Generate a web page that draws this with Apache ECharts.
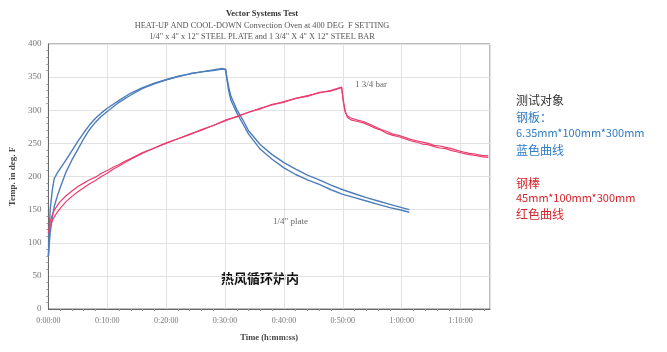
<!DOCTYPE html>
<html>
<head>
<meta charset="utf-8">
<script src="https://cdn.jsdelivr.net/npm/echarts@6/dist/echarts.min.js"></script>
<style>
html,body{margin:0;padding:0;background:#fff;}
#chart{width:667px;height:352px;}
</style>
</head>
<body>
<div id="chart"></div>
<script>
// time in minutes, temperature in deg F
const plateTimes = [0,0.3,0.7,1,1.5,2,3,4,5,6,7,8,9,10,12,14,16,18,20,22,24,26,28,29.5,30.1,30.3,30.6,31,32,33,34,36,38,40,42,44,46,48,50,52,54,56,58,60,61.3]
const plateA = [80,150,182,197,205,212,225,239,253,266,278,288,296,303,315,326,334,341,346,351,355,358,361,363,362,348,330,315,296,280,264,241,226,213,203,195,188,180,173,168,163,158,153,149,146]
const plateB = [80,115,140,155,170,183,207,225,241,257,271,282,291,298,312,323,333,340,346,351,355,358,360,362,361,350,336,321,301,286,269,248,233,221,211,202,195,187,180,174,168,163,158,153,150]

const barTimes = [0,0.3,0.7,1,1.5,2,3,4,5,6,7,8,9,10,11,12,13,14,16,18,20,22,24,26,28,30,32,34,36,38,40,42,44,46,48,49.8,50.1,50.4,50.8,51.5,52.5,53.5,54.5,55.5,56.5,57.5,58.5,59.5,60.5,61.5,62.5,63.5,64.5,65.5,66.5,67.5,68.5,69.5,70.5,71.5,72.5,73.5,74.7]
const barA = [115,132,143,149,156,162,171,178,185,190,195,199,205,209,214,218,223,227,236,243,250,257,264,270,277,284,291,297,303,308,313,318,322,326,330,335,312,297,291,288,285,283,279,275,271,268,264,262,259,256,254,252,250,247,246,244,242,239,237,235,234,232,231]
const barB = [115,125,134,139,146,152,162,170,177,183,189,194,200,205,211,216,221,226,235,243,251,257,263,271,277,285,290,297,302,309,312,318,321,327,329,334,314,299,289,285,283,281,277,273,270,265,262,260,257,254,252,249,248,245,243,242,239,237,235,233,232,230,229]

const titleLines = ['Vector Systems Test','HEAT-UP AND COOL-DOWN Convection Oven at 400 DEG  F SETTING','1/4" x 4" x 12" STEEL PLATE and 1 3/4" X 4" X 12" STEEL BAR']

const chart = echarts.init(document.getElementById('chart'))

function pairs(ts, vs){
    return ts.map((t,i)=>[t, vs[i]])
}

function fmtTime(v){
    const h = Math.floor(v/60)
    const m = v%60
    return h + ':' + (m<10?'0'+m:m) + ':00'
}

const serif = '"Liberation Serif", "DejaVu Serif", serif'
const cjk = '"Noto Sans CJK SC", sans-serif'
const blue = '#4d7dbb'
const red = '#ec3d6f'

const option = {
    animation:false,
    grid:{
        left:46,
        right:177,
        top:44,
        bottom:43,
        show:true,
        borderColor:'#777',
        borderWidth:1
    },
    xAxis:{
        type:'value',
        min:0,
        max:75,
        interval:10,
        name:'Time (h:mm:ss)',
        nameLocation:'middle',
        nameGap:24,
        nameTextStyle:{fontFamily:serif,fontWeight:'bold',fontSize:8.5,color:'#444'},
        axisLine:{lineStyle:{color:'#666'}},
        axisTick:{show:false},
        minorTick:{show:true,splitNumber:5,length:2,lineStyle:{color:'#999'}},
        axisLabel:{formatter:fmtTime,fontFamily:serif,fontSize:8,color:'#777',margin:8,showMaxLabel:false},
        splitLine:{show:true,lineStyle:{color:'#e2e2e2'}}
    },
    yAxis:{
        type:'value',
        min:0,
        max:400,
        interval:50,
        name:'Temp. in deg. F',
        nameLocation:'middle',
        nameGap:27,
        nameTextStyle:{fontFamily:serif,fontWeight:'bold',fontSize:9,color:'#444'},
        axisLine:{show:true,lineStyle:{color:'#666'}},
        axisTick:{show:false},
        minorTick:{show:true,splitNumber:5,length:2,lineStyle:{color:'#999'}},
        axisLabel:{fontFamily:serif,fontSize:9,color:'#777',margin:7},
        splitLine:{show:true,lineStyle:{color:'#e2e2e2'}}
    },
    series:[
        {name:'plate A',type:'line',data:pairs(plateTimes,plateA),showSymbol:false,lineStyle:{color:blue,width:1.4}},
        {name:'plate B',type:'line',data:pairs(plateTimes,plateB),showSymbol:false,lineStyle:{color:blue,width:1.4}},
        {name:'bar A',type:'line',data:pairs(barTimes,barA),showSymbol:false,lineStyle:{color:red,width:1.2}},
        {name:'bar B',type:'line',data:pairs(barTimes,barB),showSymbol:false,lineStyle:{color:red,width:1.2}}
    ],
    graphic:[
        {type:'text',x:262,y:14,style:{text:titleLines[0],font:'bold 8.5px '+serif,fill:'#333',align:'center',verticalAlign:'middle'}},
        {type:'text',x:262,y:26,style:{text:titleLines[1],font:'8.3px '+serif,fill:'#555',align:'center',verticalAlign:'middle'}},
        {type:'text',x:262,y:37,style:{text:titleLines[2],font:'8.3px '+serif,fill:'#555',align:'center',verticalAlign:'middle'}},
        {type:'text',x:355,y:85,style:{text:'1 3/4 bar',font:'9px '+serif,fill:'#666',verticalAlign:'middle'}},
        {type:'text',x:273,y:222,style:{text:'1/4" plate',font:'9px '+serif,fill:'#666',verticalAlign:'middle'}},
        {type:'text',x:260,y:278,style:{text:'热风循环炉内',font:'bold 13px '+cjk,fill:'#111',align:'center',verticalAlign:'middle'}},
        {type:'text',x:516,y:100,style:{text:'测试对象',font:'12px '+cjk,fill:'#333',verticalAlign:'middle'}},
        {type:'text',x:516,y:117,style:{text:'钢板：',font:'12px '+cjk,fill:'#2f7bc4',verticalAlign:'middle'}},
        {type:'text',x:516,y:133,style:{text:'6.35mm*100mm*300mm',font:'11px '+cjk,fill:'#2f7bc4',verticalAlign:'middle'}},
        {type:'text',x:516,y:150,style:{text:'蓝色曲线',font:'12px '+cjk,fill:'#2f7bc4',verticalAlign:'middle'}},
        {type:'text',x:516,y:183,style:{text:'钢棒',font:'12px '+cjk,fill:'#d3262c',verticalAlign:'middle'}},
        {type:'text',x:516,y:198,style:{text:'45mm*100mm*300mm',font:'11px '+cjk,fill:'#d3262c',verticalAlign:'middle'}},
        {type:'text',x:516,y:214,style:{text:'红色曲线',font:'12px '+cjk,fill:'#d3262c',verticalAlign:'middle'}}
    ]
}

chart.setOption(option)
</script>
</body>
</html>
